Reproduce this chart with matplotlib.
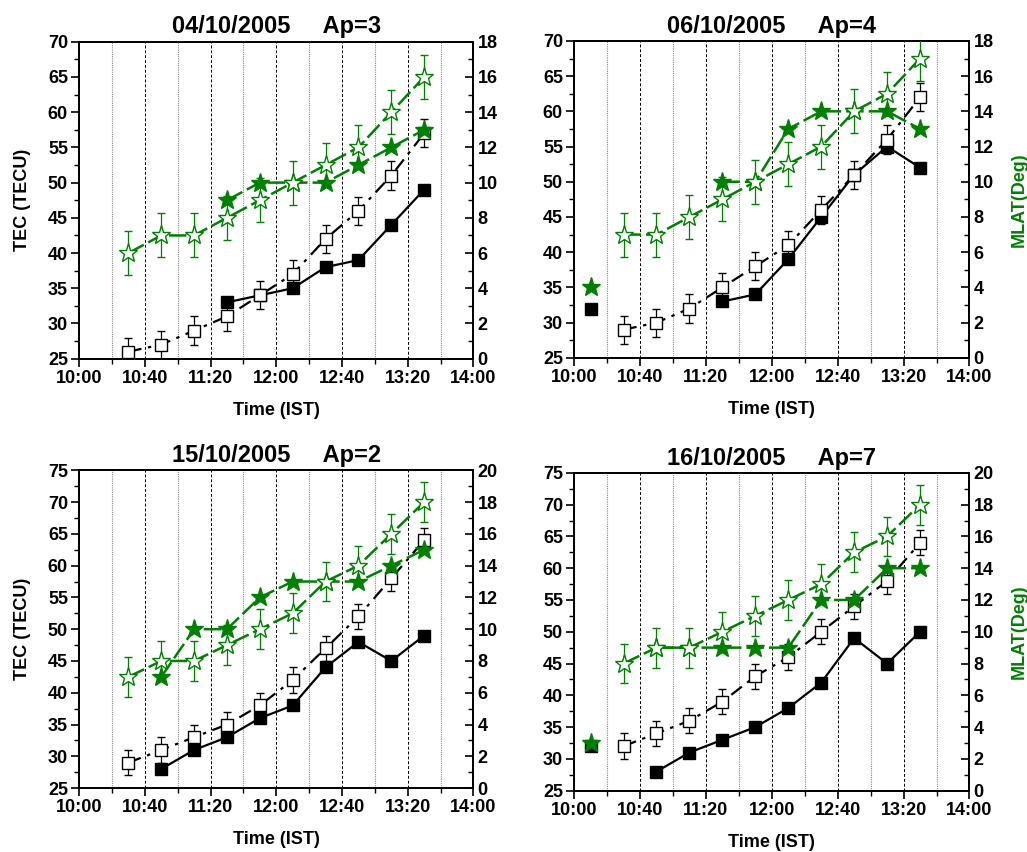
import matplotlib

matplotlib.use("Agg")
import matplotlib.pyplot as plt
import numpy as np
from matplotlib.ticker import MultipleLocator

plt.rcParams["font.family"] = ["Liberation Sans", "DejaVu Sans"]
plt.rcParams["font.weight"] = "bold"

nan = np.nan

# sample times (IST)
TIMES = ["10:10", "10:30", "10:50", "11:10", "11:30", "11:50",
         "12:10", "12:30", "12:50", "13:10", "13:30"]
TICK_LABELS = ["10:00", "10:40", "11:20", "12:00", "12:40", "13:20", "14:00"]

TITLES = ["04/10/2005     Ap=3", "06/10/2005     Ap=4",
          "15/10/2005     Ap=2", "16/10/2005     Ap=7"]

# TEC (TECU), open squares with error bars
TEC_OPEN_1 = [nan, 26, 27, 29, 31, 34, 37, 42, 46, 51, 57]
TEC_OPEN_2 = [nan, 29, 30, 32, 35, 38, 41, 46, 51, 56, 62]
TEC_OPEN_3 = [nan, 29, 31, 33, 35, 38, 42, 47, 52, 58, 64]
TEC_OPEN_4 = [nan, 32, 34, 36, 39, 43, 46, 50, 54, 58, 64]
TEC_ERR = 2.0

# TEC (TECU), filled squares
TEC_FILL_1 = [nan, nan, nan, nan, 33, 34, 35, 38, 39, 44, 49]
TEC_FILL_2 = [32, nan, nan, nan, 33, 34, 39, 45, 51, 55, 52]
TEC_FILL_3 = [nan, nan, 28, 31, 33, 36, 38, 44, 48, 45, 49]
TEC_FILL_4 = [32, nan, 28, 31, 33, 35, 38, 42, 49, 45, 50]

# MLAT (deg), open stars with error bars
MLAT_OPEN_1 = [nan, 6, 7, 7, 8, 9, 10, 11, 12, 14, 16]
MLAT_OPEN_2 = [nan, 7, 7, 8, 9, 10, 11, 12, 14, 15, 17]
MLAT_OPEN_3 = [nan, 7, 8, 8, 9, 10, 11, 13, 14, 16, 18]
MLAT_OPEN_4 = [nan, 8, 9, 9, 10, 11, 12, 13, 15, 16, 18]
MLAT_ERR = 1.25

# MLAT (deg), filled stars
MLAT_FILL_1 = [nan, nan, nan, nan, 9, 10, 10, 10, 11, 12, 13]
MLAT_FILL_2 = [4, nan, nan, nan, 10, 10, 13, 14, 14, 14, 13]
MLAT_FILL_3 = [nan, nan, 7, 10, 10, 12, 13, 13, 13, 14, 15]
MLAT_FILL_4 = [3, nan, 9, 9, 9, 9, 9, 12, 12, 14, 14]

TEC_LIMS = [(25, 70), (25, 70), (25, 75), (25, 75)]
MLAT_LIMS = [(0, 18), (0, 18), (0, 20), (0, 20)]

GREEN = "#008000"


def _minutes(t):
    h, m = t.split(":")
    return (int(h) - 10) * 60 + int(m)


X = np.array([_minutes(t) for t in TIMES])

PANELS = [
    (TEC_OPEN_1, TEC_FILL_1, MLAT_OPEN_1, MLAT_FILL_1),
    (TEC_OPEN_2, TEC_FILL_2, MLAT_OPEN_2, MLAT_FILL_2),
    (TEC_OPEN_3, TEC_FILL_3, MLAT_OPEN_3, MLAT_FILL_3),
    (TEC_OPEN_4, TEC_FILL_4, MLAT_OPEN_4, MLAT_FILL_4),
]

# axes rectangles in figure fractions (left, bottom, width, height)
RECTS = [
    (0.077, 0.579, 0.384, 0.372),
    (0.559, 0.580, 0.385, 0.372),
    (0.077, 0.075, 0.384, 0.373),
    (0.559, 0.072, 0.385, 0.373),
]

fig = plt.figure(figsize=(10.27, 8.52), dpi=100)

for i, (tec_o, tec_f, ml_o, ml_f) in enumerate(PANELS):
    ax = fig.add_axes(RECTS[i])
    ax2 = ax.twinx()

    ax.set_xlim(0, 240)
    ax.set_ylim(*TEC_LIMS[i])
    ax2.set_ylim(*MLAT_LIMS[i])

    ax.xaxis.set_minor_locator(MultipleLocator(20))
    ax.set_xticks(np.arange(0, 241, 40))
    ax.set_xticklabels(TICK_LABELS)
    ax.yaxis.set_major_locator(MultipleLocator(5))
    ax.yaxis.set_minor_locator(MultipleLocator(2.5))
    ax2.yaxis.set_major_locator(MultipleLocator(2))
    ax2.yaxis.set_minor_locator(MultipleLocator(1))

    ax.tick_params(axis="both", which="major", direction="out", length=6,
                   width=1.2, labelsize=13, pad=2)
    ax.tick_params(axis="both", which="minor", direction="out", length=3.5, width=1.0)
    ax2.tick_params(axis="y", which="major", direction="in", length=6,
                    width=1.2, labelsize=13, pad=3)
    ax2.tick_params(axis="y", which="minor", direction="in", length=3.5, width=1.0)

    ax.grid(axis="x", which="major", color="black", linestyle=(0, (3, 2)), linewidth=0.7)
    ax.grid(axis="x", which="minor", color="#888888", linestyle=(0, (1, 1)), linewidth=0.8)
    ax.set_axisbelow(True)

    for a in (ax, ax2):
        for sp in a.spines.values():
            sp.set_linewidth(1.3)

    # TEC: filled squares, then open squares on top
    ax.plot(X, tec_f, color="black", linestyle="-", linewidth=1.6, marker="s",
            markersize=9, markerfacecolor="black", markeredgecolor="black", zorder=3)
    ax.errorbar(X, tec_o, yerr=TEC_ERR, color="black", linestyle=(0, (6, 3, 1.5, 3)),
                linewidth=1.6, marker="s", markersize=9, markerfacecolor="white",
                markeredgecolor="black", markeredgewidth=1.0, ecolor="black",
                elinewidth=0.9, capsize=3, capthick=0.9, zorder=4)

    # MLAT: filled stars, then open stars on top
    ax2.plot(X, ml_f, color=GREEN, linestyle=(0, (7, 2)), linewidth=1.8, marker="*",
             markersize=14, markerfacecolor=GREEN, markeredgecolor=GREEN, zorder=3)
    ax2.errorbar(X, ml_o, yerr=MLAT_ERR, color=GREEN, linestyle=(0, (7, 2)),
                 linewidth=1.8, marker="*", markersize=14, markerfacecolor="white",
                 markeredgecolor=GREEN, markeredgewidth=1.0, ecolor=GREEN,
                 elinewidth=0.9, capsize=3, capthick=0.9, zorder=4)

    ax.set_title(TITLES[i], fontsize=17, fontweight="bold", pad=6)
    ax.set_xlabel("Time (IST)", fontsize=13, fontweight="bold", labelpad=11)
    if i % 2 == 0:
        ax.set_ylabel("TEC (TECU)", fontsize=13, fontweight="bold", labelpad=12)
    else:
        ax2.set_ylabel("MLAT(Deg)", fontsize=13, fontweight="bold", color=GREEN, labelpad=12)

fig.savefig("out.png", dpi=100)
